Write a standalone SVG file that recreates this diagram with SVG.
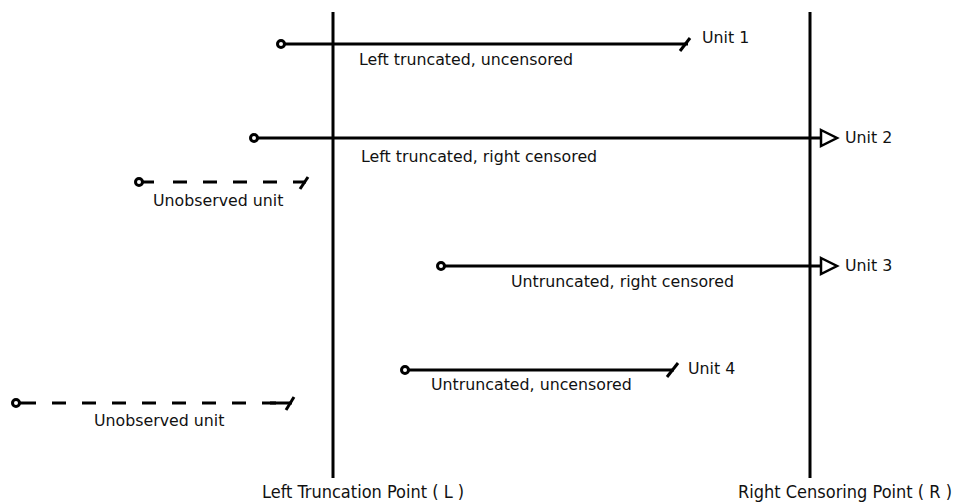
<svg xmlns="http://www.w3.org/2000/svg" width="972" height="502" viewBox="0 0 972 502">
<style>
.ln{stroke:#000;stroke-width:3;fill:none}
.ds{stroke:#000;stroke-width:3;fill:none;stroke-dasharray:14 16}
.st{stroke:#000;stroke-width:3;fill:#fff}
.tri{stroke:#000;stroke-width:2.5;fill:#fff;stroke-linejoin:miter}
.t{font-family:"DejaVu Sans","Liberation Sans",sans-serif;font-size:15.8px;fill:#111}
.b{font-family:"DejaVu Sans Condensed","DejaVu Sans","Liberation Sans",sans-serif;font-size:18px;fill:#111}
</style>
<rect width="972" height="502" fill="#fff"/>
<g id="left-truncation-point">
<line class="ln" x1="333" y1="12" x2="333" y2="478"/>
<text class="b" x="262" y="498">Left Truncation Point ( L )</text>
</g>
<g id="right-censoring-point">
<line class="ln" x1="810" y1="12" x2="810" y2="478"/>
<text class="b" x="738" y="498">Right Censoring Point ( R )</text>
</g>
<g id="connectors">
<line class="ln" x1="285" y1="44" x2="688" y2="44"/>
<line class="ln" x1="680" y1="51" x2="690" y2="38"/>
<line class="ln" x1="258" y1="138" x2="820" y2="138"/>
<polygon class="tri" points="821,130 837,138 821,146"/>
<line class="ln" x1="143" y1="182" x2="154" y2="182"/>
<line class="ds" x1="173" y1="182" x2="300" y2="182"/>
<line class="ln" x1="300" y1="182" x2="306" y2="182"/>
<line class="ln" x1="300" y1="189" x2="308" y2="177"/>
<line class="ln" x1="445" y1="266" x2="820" y2="266"/>
<polygon class="tri" points="821,258 837,266 821,274"/>
<line class="ln" x1="409" y1="370" x2="674" y2="370"/>
<line class="ln" x1="667" y1="377" x2="678" y2="363"/>
<line class="ln" x1="20" y1="403" x2="36" y2="403"/>
<line class="ds" x1="52" y1="403" x2="284" y2="403"/>
<line class="ln" x1="270" y1="403" x2="292" y2="403"/>
<line class="ln" x1="286" y1="410" x2="294" y2="397"/>
</g>
<g id="unit1">
<circle class="st" cx="281" cy="44" r="3.5"/>
<text class="t" x="702" y="43">Unit 1</text>
<text class="t" x="359" y="65">Left truncated, uncensored</text>
</g>
<g id="unit2">
<circle class="st" cx="254" cy="138" r="3.5"/>
<text class="t" x="845" y="143">Unit 2</text>
<text class="t" x="361" y="162">Left truncated, right censored</text>
</g>
<g id="unobserved1">
<circle class="st" cx="139" cy="182" r="3.5"/>
<text class="t" x="153" y="206">Unobserved unit</text>
</g>
<g id="unit3">
<circle class="st" cx="441" cy="266" r="3.5"/>
<text class="t" x="845" y="271">Unit 3</text>
<text class="t" x="511" y="287">Untruncated, right censored</text>
</g>
<g id="unit4">
<circle class="st" cx="405" cy="370" r="3.5"/>
<text class="t" x="688" y="374">Unit 4</text>
<text class="t" x="431" y="390">Untruncated, uncensored</text>
</g>
<g id="unobserved2">
<circle class="st" cx="16" cy="403" r="3.5"/>
<text class="t" x="94" y="426">Unobserved unit</text>
</g>
</svg>
